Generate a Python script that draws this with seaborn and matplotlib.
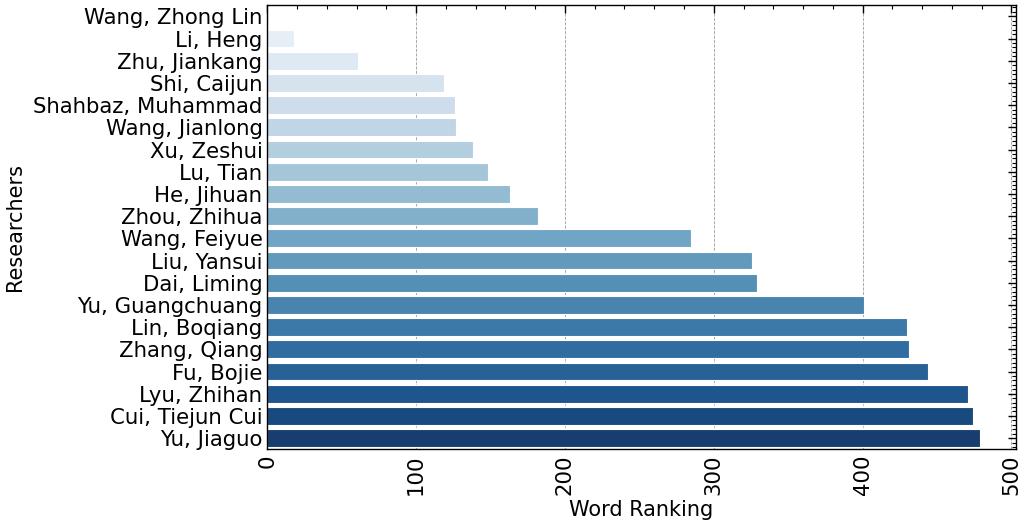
import pandas as pd
import matplotlib
matplotlib.use("Agg")
import matplotlib.pyplot as plt
from matplotlib.ticker import AutoMinorLocator
import seaborn as sns

researchers = ["Wang, Zhong Lin", "Li, Heng", "Zhu, Jiankang", "Shi, Caijun",
               "Shahbaz, Muhammad", "Wang, Jianlong", "Xu, Zeshui", "Lu, Tian",
               "He, Jihuan", "Zhou, Zhihua", "Wang, Feiyue", "Liu, Yansui",
               "Dai, Liming", "Yu, Guangchuang", "Lin, Boqiang", "Zhang, Qiang",
               "Fu, Bojie", "Lyu, Zhihan", "Cui, Tiejun Cui", "Yu, Jiaguo"]
ranking = [1, 18, 61, 119, 126, 127, 138, 148, 163, 182,
           285, 326, 329, 401, 430, 431, 444, 471, 474, 479]

df = pd.DataFrame({"Researchers": researchers, "Word Ranking": ranking})

sns.set_style("white")
plt.rcParams['font.family'] = ['DejaVu Sans']
plt.rcParams['text.color'] = 'black'
plt.rcParams['axes.labelcolor'] = 'black'
plt.rcParams['xtick.color'] = 'black'
plt.rcParams['ytick.color'] = 'black'

fig, ax = plt.subplots(figsize=(10.24, 5.26), dpi=100)
fig.subplots_adjust(left=0.261, right=0.992, top=0.99, bottom=0.146)

sns.barplot(data=df, x="Word Ranking", y="Researchers", hue="Researchers",
            palette="Blues", legend=False, edgecolor="white", linewidth=0.8, ax=ax)

ax.grid(axis="x", linestyle="--", color="gray", linewidth=0.6, alpha=0.8)
ax.set_axisbelow(True)

ax.xaxis.set_minor_locator(AutoMinorLocator(5))
ax.yaxis.set_minor_locator(AutoMinorLocator(5))
ax.tick_params(which="both", direction="in", top=True, right=True, labelsize=15.3)
ax.tick_params(which="major", length=6, width=1)
ax.tick_params(which="minor", length=3, width=0.8)
ax.tick_params(axis="x", labelrotation=90)

for sp in ax.spines.values():
    sp.set_color("black")
    sp.set_linewidth(1.0)

ax.set_xlabel("Word Ranking", fontsize=15)
ax.set_ylabel("Researchers", fontsize=15, labelpad=6)

plt.savefig("out.png", dpi=100)
